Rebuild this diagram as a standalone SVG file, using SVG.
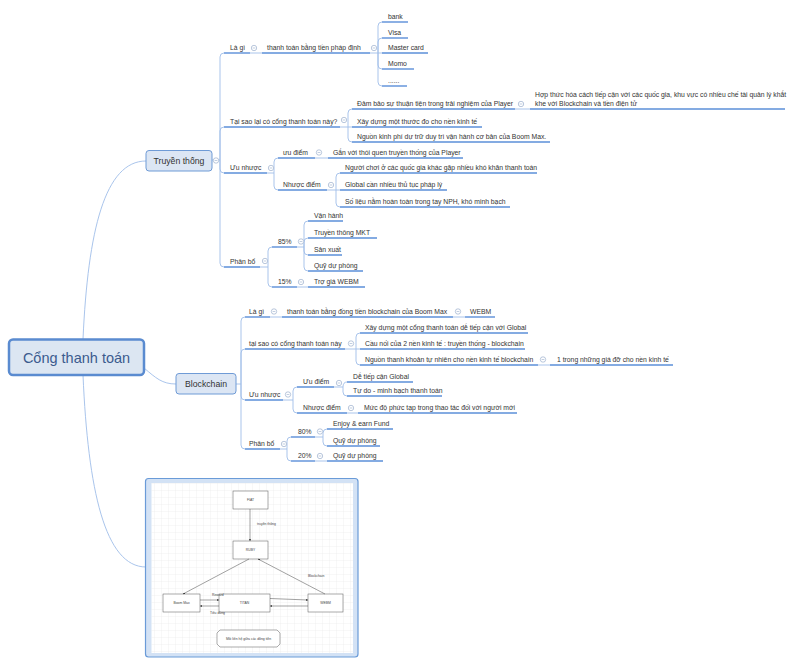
<svg xmlns="http://www.w3.org/2000/svg" width="795" height="665" viewBox="0 0 795 665">
<style>
.t{font-family:"Liberation Sans",Arial,sans-serif;font-size:6.8px;fill:#333}
.mt{font-family:"Liberation Sans",Arial,sans-serif;font-size:8.7px;fill:#333}
.rt{font-family:"Liberation Sans",Arial,sans-serif;font-size:14.5px;fill:#3b5b8e}
.ul{stroke:#5b8fd8;stroke-width:1.4;fill:none}
.c{stroke:#9fbde9;stroke-width:0.9;fill:none}
.box{fill:#dce6f4;stroke:#6f9bd6;stroke-width:1}
.root{fill:#dce6f2;stroke:#5a8bd0;stroke-width:2.5}
.d{fill:#fff;stroke:#555;stroke-width:0.5}
.dl{stroke:#444;stroke-width:0.5;fill:none}
.dt{font-family:"Liberation Sans",Arial,sans-serif;font-size:3.4px;fill:#444}
</style>
<defs>
<g id="btn"><circle r="2.7" fill="#fff" stroke="#a7b9d3" stroke-width="0.8"/><path d="M-1.4 0H1.4" stroke="#a7b9d3" stroke-width="0.7"/></g>
<marker id="ar" viewBox="0 0 6 6" refX="6" refY="3" markerWidth="4" markerHeight="4" orient="auto"><path d="M0 0L6 3L0 6z" fill="#333"/></marker>
<pattern id="grid" width="7" height="7" patternUnits="userSpaceOnUse"><path d="M7 0H0V7" fill="none" stroke="#e4e4e4" stroke-width="0.5"/></pattern>
</defs>
<rect width="795" height="665" fill="#fff"/>

<g id="connectors">
<path class="c" d="M83 339C88 230 105 161 146 161"/>
<path class="c" d="M144 368C156 378 162 384 176 384"/>
<path class="c" d="M83 375C88 490 105 567 146 567"/>
<path class="c" d="M212 160H220V57Q220 53 224 53M220 160V131Q220 127 224 127M220 160V169Q220 173 224 173M220 160V263Q220 267 224 267"/>
<path class="c" d="M250 53H262"/>
<path class="c" d="M370 53H378V26Q378 22 382 22M378 53V42Q378 38 382 38M378 53H382M378 53V65Q378 69 382 69M378 53V82Q378 86 382 86"/>
<path class="c" d="M340 127H352M348 127V113Q348 109 352 109M348 127V138Q348 142 352 142M515 109H530"/>
<path class="c" d="M267 173H274V162Q274 158 278 158M274 173V186Q274 190 278 190M315 158H328"/>
<path class="c" d="M327 190H340M336 190V177Q336 173 340 173M336 190V203Q336 207 340 207"/>
<path class="c" d="M260 267H268V251Q268 247 272 247M268 267V283Q268 287 272 287"/>
<path class="c" d="M297 247H304V225Q304 221 308 221M304 247V242Q304 238 308 238M304 247V251Q304 255 308 255M304 247V267Q304 271 308 271M297 287H308"/>
<path class="c" d="M236 384H241V321Q241 317 245 317M241 384V353Q241 349 245 349M241 384V396Q241 400 245 400M241 384V445Q241 449 245 449"/>
<path class="c" d="M270 317H282M453 317H465"/>
<path class="c" d="M345 349H360M356 349V337Q356 333 360 333M356 349V361Q356 365 360 365M538 365H550"/>
<path class="c" d="M283 400H293V391Q293 387 297 387M293 400V409Q293 413 297 413"/>
<path class="c" d="M334 387H343Q343 382 347 382M343 387V392Q343 396 347 396M347 413H358"/>
<path class="c" d="M280 449H287V441Q287 437 291 437M287 449V457Q287 461 291 461"/>
<path class="c" d="M315 437H323V433Q323 429 327 429M323 437V442Q323 446 327 446M315 461H327"/>
</g>

<g id="node-root"><rect class="root" x="9" y="339.5" width="135" height="35.5" rx="4"/><text class="rt" x="76.5" y="362.5" text-anchor="middle">Cổng thanh toán</text></g>

<g id="node-truyen-thong"><rect class="box" x="146" y="150.5" width="66" height="20.5" rx="3"/><text class="mt" x="179" y="164" text-anchor="middle">Truyền thống</text><use href="#btn" x="216" y="160.5"/></g>
<g id="node-t-lagi"><text class="t" x="230" y="50">Là gì</text><path class="ul" d="M224 53H250"/><use href="#btn" x="254" y="48"/></g>
<g id="node-t-phapdinh"><text class="t" x="267" y="50">thanh toán bằng tiền pháp định</text><path class="ul" d="M262 53H370"/><use href="#btn" x="374" y="48"/></g>
<g id="node-bank"><text class="t" x="388" y="19">bank</text><path class="ul" d="M382 22H408"/></g>
<g id="node-visa"><text class="t" x="388" y="35">Visa</text><path class="ul" d="M382 38H408"/></g>
<g id="node-master"><text class="t" x="388" y="50">Master card</text><path class="ul" d="M382 53H428"/></g>
<g id="node-momo"><text class="t" x="388" y="66">Momo</text><path class="ul" d="M382 69H414"/></g>
<g id="node-dots"><text class="t" x="388" y="83">......</text><path class="ul" d="M382 86H407"/></g>
<g id="node-t-taisao"><text class="t" x="230" y="123.5">Tại sao lại có cổng thanh toán này?</text><path class="ul" d="M224 127H340"/><use href="#btn" x="344" y="120"/></g>
<g id="node-dambao"><text class="t" x="357" y="106">Đảm bảo sự thuận tiện trong trải nghiệm của Player</text><path class="ul" d="M352 109H515"/><use href="#btn" x="521" y="104"/></g>
<g id="node-hopthuc"><text class="t" x="535" y="97">Hợp thức hóa cách tiếp cận với các quốc gia, khu vực có nhiều chế tài quản lý khắt</text><text class="t" x="535" y="106">khe với Blockchain và tiền điện tử</text><path class="ul" d="M530 109H785"/></g>
<g id="node-xaydung"><text class="t" x="357" y="123.5">Xây dựng một thước đo cho nền kinh tế</text><path class="ul" d="M352 127H482"/></g>
<g id="node-nguonkinhphi"><text class="t" x="357" y="138.5">Nguồn kinh phí dự trữ duy trì vận hành cơ bản của Boom Max.</text><path class="ul" d="M352 142H550"/></g>
<g id="node-t-uunhuoc"><text class="t" x="230" y="169.5">Ưu nhược</text><path class="ul" d="M224 173H267"/><use href="#btn" x="271" y="168"/></g>
<g id="node-t-uudiem"><text class="t" x="283" y="154.5">ưu điểm</text><path class="ul" d="M278 158H315"/><use href="#btn" x="319" y="152.5"/></g>
<g id="node-ganvoi"><text class="t" x="333" y="154.5">Gắn với thói quen truyền thống của Player</text><path class="ul" d="M328 158H463"/></g>
<g id="node-t-nhuocdiem"><text class="t" x="283" y="186.5">Nhược điểm</text><path class="ul" d="M278 190H327"/><use href="#btn" x="331" y="185"/></g>
<g id="node-nguoichoi"><text class="t" x="345" y="169.5">Người chơi ở các quốc gia khác gặp nhiều khó khăn thanh toán</text><path class="ul" d="M340 173H537"/></g>
<g id="node-global"><text class="t" x="345" y="186.5">Global cần nhiều thủ tục pháp lý</text><path class="ul" d="M340 190H447"/></g>
<g id="node-solieu"><text class="t" x="345" y="203.5">Số liệu nằm hoàn toàn trong tay NPH, khó minh bạch</text><path class="ul" d="M340 207H510"/></g>
<g id="node-t-phanbo"><text class="t" x="230" y="263.5">Phân bổ</text><path class="ul" d="M224 267H260"/><use href="#btn" x="265" y="261"/></g>
<g id="node-85"><text class="t" x="278" y="243.5">85%</text><path class="ul" d="M272 247H297"/><use href="#btn" x="301" y="241.5"/></g>
<g id="node-vanhanh"><text class="t" x="314" y="217.5">Vận hành</text><path class="ul" d="M308 221H343"/></g>
<g id="node-mkt"><text class="t" x="314" y="234.5">Truyền thông MKT</text><path class="ul" d="M308 238H377"/></g>
<g id="node-sanxuat"><text class="t" x="314" y="251.5">Sản xuất</text><path class="ul" d="M308 255H342"/></g>
<g id="node-quy1"><text class="t" x="314" y="267.5">Quỹ dự phòng</text><path class="ul" d="M308 271H363"/></g>
<g id="node-15"><text class="t" x="278" y="283.5">15%</text><path class="ul" d="M272 287H297"/><use href="#btn" x="301" y="282"/></g>
<g id="node-trogia"><text class="t" x="314" y="283.5">Trợ giá WEBM</text><path class="ul" d="M308 287H365"/></g>

<g id="node-blockchain"><rect class="box" x="176" y="373.5" width="60" height="20.5" rx="3"/><text class="mt" x="206" y="387" text-anchor="middle">Blockchain</text></g>
<g id="node-b-lagi"><text class="t" x="249" y="313.5">Là gì</text><path class="ul" d="M245 317H270"/><use href="#btn" x="274" y="311.5"/></g>
<g id="node-b-dongtien"><text class="t" x="287" y="313.5">thanh toán bằng đồng tiền blockchain của Boom Max</text><path class="ul" d="M282 317H453"/><use href="#btn" x="458" y="311.5"/></g>
<g id="node-webm"><text class="t" x="470" y="313.5">WEBM</text><path class="ul" d="M465 317H495"/></g>
<g id="node-b-taisao"><text class="t" x="249" y="345.5">tại sao có cổng thanh toán này</text><path class="ul" d="M245 349H345"/><use href="#btn" x="351" y="343.5"/></g>
<g id="node-b-xaydung"><text class="t" x="365" y="329.5">Xây dựng một cổng thanh toán dễ tiếp cận với Global</text><path class="ul" d="M360 333H528"/></g>
<g id="node-caunoi"><text class="t" x="365" y="345.5">Cầu nối của 2 nền kinh tế : truyền thống - blockchain</text><path class="ul" d="M360 349H525"/></g>
<g id="node-thanhkhoan"><text class="t" x="365" y="361.5">Nguồn thanh khoản tự nhiên cho nền kinh tế blockchain</text><path class="ul" d="M360 365H538"/><use href="#btn" x="543" y="359.5"/></g>
<g id="node-giado"><text class="t" x="557" y="361.5">1 trong những giá đỡ cho nền kinh tế</text><path class="ul" d="M550 365H673"/></g>
<g id="node-b-uunhuoc"><text class="t" x="249" y="396.5">Ưu nhược</text><path class="ul" d="M245 400H283"/><use href="#btn" x="288" y="394.5"/></g>
<g id="node-b-uudiem"><text class="t" x="303" y="383.5">Ưu điểm</text><path class="ul" d="M297 387H334"/><use href="#btn" x="339" y="383"/></g>
<g id="node-detiepcan"><text class="t" x="353" y="378.5">Dễ tiếp cận Global</text><path class="ul" d="M347 382H413"/></g>
<g id="node-tudo"><text class="t" x="353" y="392.5">Tự do - minh bạch thanh toán</text><path class="ul" d="M347 396H442"/></g>
<g id="node-b-nhuocdiem"><text class="t" x="303" y="409.5">Nhược điểm</text><path class="ul" d="M297 413H347"/><use href="#btn" x="351" y="408"/></g>
<g id="node-mucdo"><text class="t" x="364" y="409.5">Mức độ phức tạp trong thao tác đối với người mới</text><path class="ul" d="M358 413H517"/></g>
<g id="node-b-phanbo"><text class="t" x="249" y="445.5">Phân bổ</text><path class="ul" d="M245 449H280"/><use href="#btn" x="284" y="444"/></g>
<g id="node-80"><text class="t" x="298" y="433.5">80%</text><path class="ul" d="M291 437H315"/><use href="#btn" x="320" y="431.5"/></g>
<g id="node-enjoy"><text class="t" x="333" y="425.5">Enjoy &amp; earn Fund</text><path class="ul" d="M327 429H393"/></g>
<g id="node-quy2"><text class="t" x="333" y="442.5">Quỹ dự phòng</text><path class="ul" d="M327 446H380"/></g>
<g id="node-20"><text class="t" x="298" y="457.5">20%</text><path class="ul" d="M291 461H315"/><use href="#btn" x="320" y="456"/></g>
<g id="node-quy3"><text class="t" x="333" y="457.5">Quỹ dự phòng</text><path class="ul" d="M327 461H383"/></g>

<g id="node-image">
<rect x="145.5" y="478.5" width="212.5" height="178.5" rx="3" fill="#d3e2f5" stroke="#6a9bd8" stroke-width="1.2"/>
<rect x="151.5" y="483" width="201.5" height="170" fill="#fff"/>
<rect x="151.5" y="483" width="201.5" height="170" fill="url(#grid)"/>
<rect class="d" x="233" y="491" width="35" height="18"/><text class="dt" x="250.5" y="501" text-anchor="middle">FIAT</text>
<rect class="d" x="233" y="541" width="35" height="18"/><text class="dt" x="250.5" y="551" text-anchor="middle">RUBY</text>
<rect class="d" x="163" y="594" width="37" height="18"/><text class="dt" x="181.5" y="604" text-anchor="middle">Boom Max</text>
<rect class="d" x="219" y="594" width="51" height="18"/><text class="dt" x="244.5" y="604" text-anchor="middle">TITAN</text>
<rect class="d" x="308" y="594" width="35" height="18"/><text class="dt" x="325.5" y="604" text-anchor="middle">WEBM</text>
<path class="dl" d="M250 509V541" marker-end="url(#ar)"/>
<path class="dl" d="M249 559L183 594" marker-end="url(#ar)"/>
<path class="dl" d="M325 594L258 559" marker-end="url(#ar)"/>
<path class="dl" d="M200 600H219" marker-end="url(#ar)"/>
<path class="dl" d="M219 606H200" marker-end="url(#ar)"/>
<path class="dl" d="M270 598.5L308 600" marker-end="url(#ar)"/>
<path class="dl" d="M308 606H270" marker-end="url(#ar)"/>
<text class="dt" x="257" y="525">truyền thống</text>
<text class="dt" x="308" y="577">Blockchain</text>
<text class="dt" x="212" y="596">Reward</text>
<text class="dt" x="210" y="613.5">Tiêu dùng</text>
<polygon class="d" points="220,630 277,630 280,633 280,644 277,647 220,647 217,644 217,633"/>
<text class="dt" x="248.5" y="639.8" text-anchor="middle">Mối liên hệ giữa các đồng tiền</text>
</g>
</svg>
